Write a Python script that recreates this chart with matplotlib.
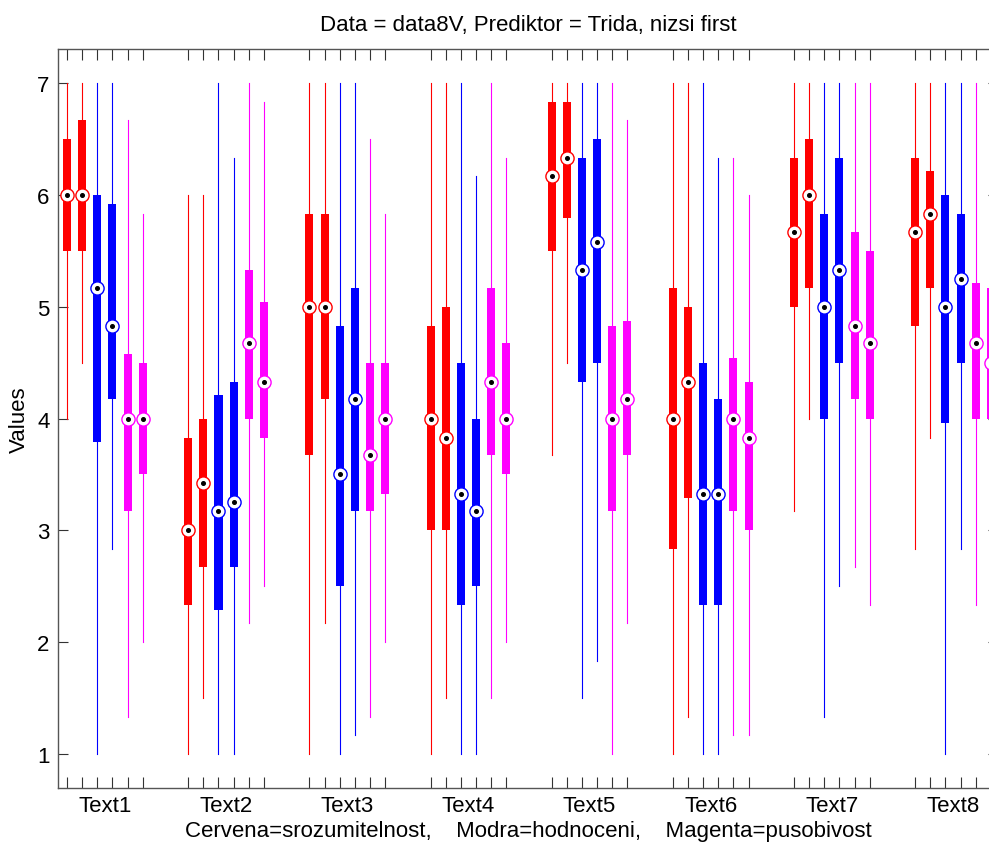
import numpy as np
import matplotlib
matplotlib.use("Agg")
import matplotlib.pyplot as plt

plt.rcParams['font.family'] = ['Liberation Sans', 'DejaVu Sans']

groups = ["Text1", "Text2", "Text3", "Text4", "Text5", "Text6", "Text7", "Text8"]
colors = ["#ff0000", "#ff0000", "#0000ff", "#0000ff", "#ff00ff", "#ff00ff"]

# per group: 6 boxes (red, red, blue, blue, magenta, magenta)
lo = [
    [4.0, 4.5, 1.0, 2.83, 1.33, 2.0],
    [1.0, 1.5, 1.0, 1.0, 2.17, 2.5],
    [1.0, 2.17, 1.0, 1.17, 1.33, 2.0],
    [1.0, 1.5, 1.0, 1.0, 1.5, 2.0],
    [3.67, 4.5, 1.5, 1.83, 1.0, 2.17],
    [1.0, 1.33, 1.0, 1.0, 1.17, 1.17],
    [3.17, 4.0, 1.33, 2.5, 2.67, 2.33],
    [2.83, 3.83, 1.0, 2.83, 2.33, 2.0],
]
q1 = [
    [5.5, 5.5, 3.79, 4.17, 3.17, 3.5],
    [2.33, 2.67, 2.29, 2.67, 4.0, 3.83],
    [3.67, 4.17, 2.5, 3.17, 3.17, 3.33],
    [3.0, 3.0, 2.33, 2.5, 3.67, 3.5],
    [5.5, 5.79, 4.33, 4.5, 3.17, 3.67],
    [2.83, 3.29, 2.33, 2.33, 3.17, 3.0],
    [5.0, 5.17, 4.0, 4.5, 4.17, 4.0],
    [4.83, 5.17, 3.96, 4.5, 4.0, 4.0],
]
med = [
    [6.0, 6.0, 5.17, 4.83, 4.0, 4.0],
    [3.0, 3.42, 3.17, 3.25, 4.67, 4.33],
    [5.0, 5.0, 3.5, 4.17, 3.67, 4.0],
    [4.0, 3.83, 3.33, 3.17, 4.33, 4.0],
    [6.17, 6.33, 5.33, 5.58, 4.0, 4.17],
    [4.0, 4.33, 3.33, 3.33, 4.0, 3.83],
    [5.67, 6.0, 5.0, 5.33, 4.83, 4.67],
    [5.67, 5.83, 5.0, 5.25, 4.67, 4.5],
]
q3 = [
    [6.5, 6.67, 6.0, 5.92, 4.58, 4.5],
    [3.83, 4.0, 4.21, 4.33, 5.33, 5.04],
    [5.83, 5.83, 4.83, 5.17, 4.5, 4.5],
    [4.83, 5.0, 4.5, 4.0, 5.17, 4.67],
    [6.83, 6.83, 6.33, 6.5, 4.83, 4.87],
    [5.17, 5.0, 4.5, 4.17, 4.54, 4.33],
    [6.33, 6.5, 5.83, 6.33, 5.67, 5.5],
    [6.33, 6.21, 6.0, 5.83, 5.21, 5.17],
]
hi = [
    [7, 7, 7, 7, 6.67, 5.83],
    [6.0, 6.0, 7, 6.33, 7, 6.83],
    [7, 7, 7, 7, 6.5, 5.83],
    [7, 7, 7, 6.17, 7, 6.33],
    [7, 7, 7, 7, 7, 6.67],
    [7, 7, 7, 6.33, 6.33, 6.0],
    [7, 7, 7, 7, 7, 7],
    [7, 7, 7, 7, 7, 7],
]

stats = []
pos = []
cols = []
for g in range(len(groups)):
    for k in range(6):
        stats.append(dict(med=med[g][k], q1=q1[g][k], q3=q3[g][k],
                          whislo=lo[g][k], whishi=hi[g][k], fliers=[]))
        pos.append(1 + 8 * g + k)
        cols.append(colors[k])

fig = plt.figure(figsize=(9.89, 8.45), dpi=100)
ax = fig.add_axes([0.0586, 0.0663, 0.951, 0.8745])

bp = ax.bxp(stats, positions=pos, widths=0.53, patch_artist=True,
            showcaps=False, showfliers=False,
            boxprops=dict(linewidth=0),
            whiskerprops=dict(linewidth=0.8),
            medianprops=dict(visible=False))
for i, c in enumerate(cols):
    bp['boxes'][i].set_facecolor(c)
    bp['boxes'][i].set_edgecolor(c)
    bp['whiskers'][2 * i].set_color(c)
    bp['whiskers'][2 * i + 1].set_color(c)

meds = [m for row in med for m in row]
for p, m, c in zip(pos, meds, cols):
    ax.plot(p, m, 'o', ms=9.5, mfc='white', mec=c, mew=1.0, zorder=4)
    ax.plot(p, m, 'o', ms=2.6, mfc='black', mec='black', zorder=5)

ax.set_xlim(0.4, 62.5)
ax.set_ylim(0.7, 7.3)
ax.set_yticks([1, 2, 3, 4, 5, 6, 7])
ax.set_xticks(pos)
ax.set_xticklabels([])
ax.set_xticks([3.5 + 8 * g for g in range(len(groups))], minor=True)
ax.set_xticklabels(groups, minor=True)
ax.tick_params(axis='x', which='major', direction='in', length=8, top=True,
               width=0.8, color='#333333')
ax.tick_params(axis='x', which='minor', length=0, pad=5, labelsize=16)
ax.tick_params(axis='y', direction='in', length=7, right=True, width=0.8,
               pad=6, labelsize=16, color='#333333')
for s in ax.spines.values():
    s.set_color('#555555')
    s.set_linewidth(1.0)

ax.set_title("Data = data8V, Prediktor = Trida, nizsi first", fontsize=16, pad=14)
ax.set_xlabel("Cervena=srozumitelnost,    Modra=hodnoceni,    Magenta=pusobivost",
              fontsize=16, labelpad=3)
ax.set_ylabel("Values", fontsize=16, labelpad=5)

fig.savefig("out.png", dpi=100)
